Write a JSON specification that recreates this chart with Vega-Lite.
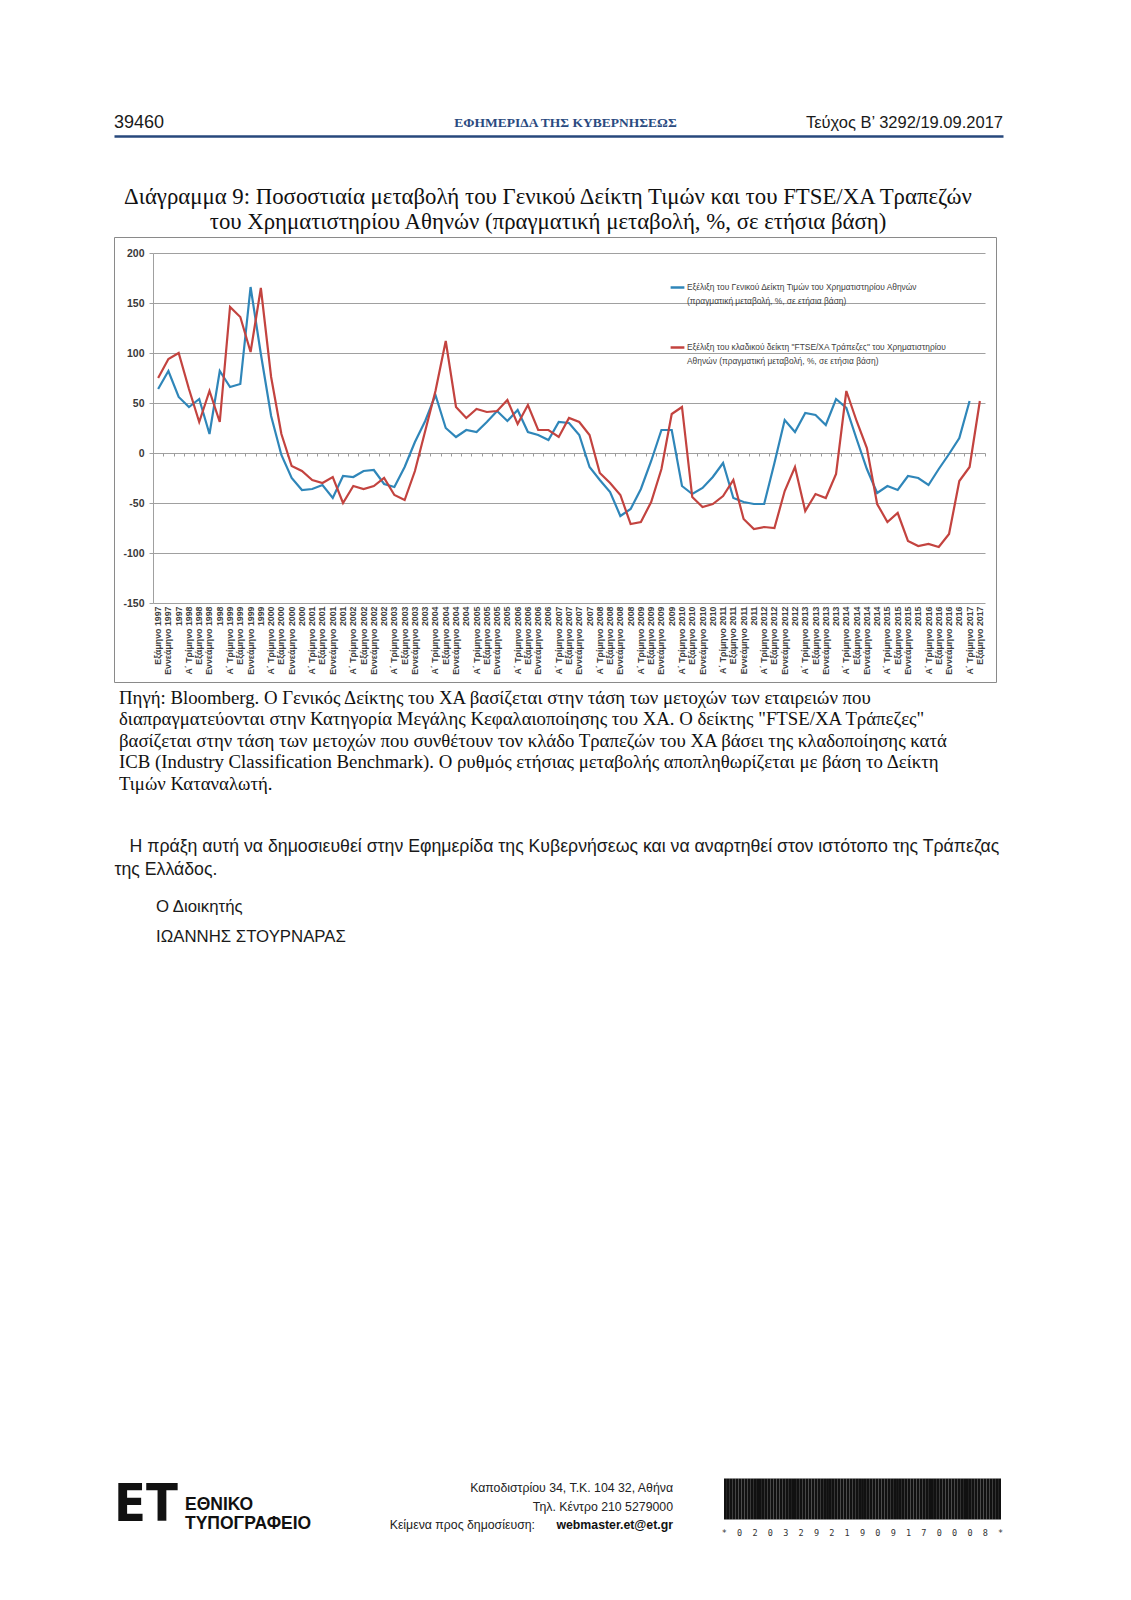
{
  "$schema": "https://vega.github.io/schema/vega-lite/v6.json",
  "background": "white",
  "padding": {"left": 113, "top": 109, "right": 0, "bottom": 0},
  "config": {"view": {"stroke": null}, "font": "Liberation Sans"},
  "datasets": {
    "quarters": [
      {"period":"Εξάμηνο 1997","general":64,"banks":75},
      {"period":"Εννεάμηνο 1997","general":82,"banks":94},
      {"period":"1997","general":56,"banks":100},
      {"period":"Α΄ Τρίμηνο 1998","general":46,"banks":64},
      {"period":"Εξάμηνο 1998","general":54,"banks":31},
      {"period":"Εννεάμηνο 1998","general":19,"banks":62},
      {"period":"1998","general":82,"banks":31},
      {"period":"Α΄ Τρίμηνο 1999","general":66,"banks":146},
      {"period":"Εξάμηνο 1999","general":69,"banks":136},
      {"period":"Εννεάμηνο 1999","general":166,"banks":101},
      {"period":"1999","general":99,"banks":165},
      {"period":"Α΄ Τρίμηνο 2000","general":37,"banks":76},
      {"period":"Εξάμηνο 2000","general":-2,"banks":19},
      {"period":"Εννεάμηνο 2000","general":-25,"banks":-13},
      {"period":"2000","general":-37,"banks":-18},
      {"period":"Α΄ Τρίμηνο 2001","general":-36,"banks":-27},
      {"period":"Εξάμηνο 2001","general":-32,"banks":-30},
      {"period":"Εννεάμηνο 2001","general":-45,"banks":-24},
      {"period":"2001","general":-23,"banks":-50},
      {"period":"Α΄ Τρίμηνο 2002","general":-24,"banks":-33},
      {"period":"Εξάμηνο 2002","general":-18,"banks":-36},
      {"period":"Εννεάμηνο 2002","general":-17,"banks":-33},
      {"period":"2002","general":-31,"banks":-25},
      {"period":"Α΄ Τρίμηνο 2003","general":-34,"banks":-42},
      {"period":"Εξάμηνο 2003","general":-14,"banks":-47},
      {"period":"Εννεάμηνο 2003","general":11,"banks":-18},
      {"period":"2003","general":32,"banks":22},
      {"period":"Α΄ Τρίμηνο 2004","general":58,"banks":62},
      {"period":"Εξάμηνο 2004","general":25,"banks":112},
      {"period":"Εννεάμηνο 2004","general":16,"banks":46},
      {"period":"2004","general":23,"banks":35},
      {"period":"Α΄ Τρίμηνο 2005","general":21,"banks":44},
      {"period":"Εξάμηνο 2005","general":31,"banks":41},
      {"period":"Εννεάμηνο 2005","general":42,"banks":42},
      {"period":"2005","general":32,"banks":53},
      {"period":"Α΄ Τρίμηνο 2006","general":43,"banks":29},
      {"period":"Εξάμηνο 2006","general":21,"banks":48},
      {"period":"Εννεάμηνο 2006","general":18,"banks":23},
      {"period":"2006","general":13,"banks":23},
      {"period":"Α΄ Τρίμηνο 2007","general":31,"banks":16},
      {"period":"Εξάμηνο 2007","general":30,"banks":35},
      {"period":"Εννεάμηνο 2007","general":18,"banks":31},
      {"period":"2007","general":-14,"banks":18},
      {"period":"Α΄ Τρίμηνο 2008","general":-27,"banks":-20},
      {"period":"Εξάμηνο 2008","general":-39,"banks":-30},
      {"period":"Εννεάμηνο 2008","general":-63,"banks":-42},
      {"period":"2008","general":-56,"banks":-71},
      {"period":"Α΄ Τρίμηνο 2009","general":-36,"banks":-69},
      {"period":"Εξάμηνο 2009","general":-8,"banks":-49},
      {"period":"Εννεάμηνο 2009","general":23,"banks":-16},
      {"period":"2009","general":23,"banks":39},
      {"period":"Α΄ Τρίμηνο 2010","general":-33,"banks":46},
      {"period":"Εξάμηνο 2010","general":-41,"banks":-44},
      {"period":"Εννεάμηνο 2010","general":-35,"banks":-54},
      {"period":"2010","general":-24,"banks":-51},
      {"period":"Α΄ Τρίμηνο 2011","general":-10,"banks":-43},
      {"period":"Εξάμηνο 2011","general":-45,"banks":-27},
      {"period":"Εννεάμηνο 2011","general":-49,"banks":-66},
      {"period":"2011","general":-51,"banks":-76},
      {"period":"Α΄ Τρίμηνο 2012","general":-51,"banks":-74},
      {"period":"Εξάμηνο 2012","general":-10,"banks":-75},
      {"period":"Εννεάμηνο 2012","general":33,"banks":-38},
      {"period":"2012","general":21,"banks":-14},
      {"period":"Α΄ Τρίμηνο 2013","general":40,"banks":-58},
      {"period":"Εξάμηνο 2013","general":38,"banks":-41},
      {"period":"Εννεάμηνο 2013","general":28,"banks":-45},
      {"period":"2013","general":54,"banks":-21},
      {"period":"Α΄ Τρίμηνο 2014","general":45,"banks":62},
      {"period":"Εξάμηνο 2014","general":14,"banks":32},
      {"period":"Εννεάμηνο 2014","general":-16,"banks":5},
      {"period":"2014","general":-40,"banks":-51},
      {"period":"Α΄ Τρίμηνο 2015","general":-33,"banks":-69},
      {"period":"Εξάμηνο 2015","general":-37,"banks":-60},
      {"period":"Εννεάμηνο 2015","general":-23,"banks":-88},
      {"period":"2015","general":-25,"banks":-93},
      {"period":"Α΄ Τρίμηνο 2016","general":-32,"banks":-91},
      {"period":"Εξάμηνο 2016","general":-16,"banks":-94},
      {"period":"Εννεάμηνο 2016","general":-1,"banks":-81},
      {"period":"2016","general":15,"banks":-28},
      {"period":"Α΄ Τρίμηνο 2017","general":52,"banks":-14},
      {"period":"Εξάμηνο 2017","banks":52}
    ]
  },
  "bounds": "flush",
  "spacing": 101,
  "vconcat": [
    {
      "width": 889,
      "height": 27,
      "data": {"values": [
        {"slot": "number", "text": "39460"},
        {"slot": "journal", "text": "ΕΦΗΜΕΡΙΔΑ ΤΗΣ ΚΥΒΕΡΝΗΣΕΩΣ"},
        {"slot": "issue", "text": "Τεύχος Β’ 3292/19.09.2017"}
      ]},
      "encoding": {
        "x": {"field": "slot", "type": "nominal", "sort": null,
              "scale": {"type": "point", "domain": ["number", "journal", "issue"], "padding": 0},
              "axis": {"orient": "bottom", "title": null, "labels": false, "ticks": false, "grid": false, "domainColor": "#27487c", "domainWidth": 2.6}},
        "text": {"field": "text"}
      },
      "layer": [
        {"transform": [{"filter": "datum.slot == 'number'"}],
         "mark": {"type": "text", "align": "left", "baseline": "middle", "font": "Liberation Sans", "fontSize": 18, "color": "#1a1a1a"}},
        {"transform": [{"filter": "datum.slot == 'journal'"}],
         "mark": {"type": "text", "align": "center", "baseline": "middle", "font": "Liberation Serif", "fontWeight": "bold", "fontSize": 13.5, "color": "#2a4a80", "dx": 7}},
        {"transform": [{"filter": "datum.slot == 'issue'"}],
         "mark": {"type": "text", "align": "right", "baseline": "middle", "font": "Liberation Sans", "fontSize": 16.5, "color": "#1a1a1a"}}
      ]
    },
    {
      "bounds": "flush",
      "spacing": 4.75,
      "vconcat": [
        {
          "width": 882,
          "height": 445,
          "view": {"stroke": "#8a8a8a", "strokeWidth": 1},
          "title": {
            "text": ["Διάγραμμα 9: Ποσοστιαία μεταβολή του Γενικού Δείκτη Τιμών και του FTSE/ΧΑ Τραπεζών", "του Χρηματιστηρίου Αθηνών (πραγματική μεταβολή, %, σε ετήσια βάση)"],
            "font": "Liberation Serif", "fontSize": 22.8, "fontWeight": "normal", "color": "#111111",
            "lineHeight": 25.5, "anchor": "middle", "offset": 3, "dx": -7
          },
          "data": {"name": "quarters"},
          "layer": [
            {
              "mark": {"type": "line", "strokeWidth": 2.2},
              "encoding": {
                "x": {"field": "period", "type": "ordinal", "sort": null,
                      "scale": {"range": [39, 871], "paddingInner": 0, "paddingOuter": 0},
                      "axis": {"orient": "bottom", "offset": -229, "title": null, "labels": false, "domain": false, "grid": false,
                               "ticks": true, "tickSize": 3, "tickColor": "#9a9a9a", "tickBand": "extent"}},
                "y": {"field": "general", "type": "quantitative",
                      "scale": {"domain": [-150, 200], "range": [366, 16], "nice": false, "zero": false},
                      "axis": {"values": [-150, -100, -50, 0, 50, 100, 150, 200], "offset": -39, "title": null,
                               "labelExpr": "datum.value < 0 ? '-' + abs(datum.value) : '' + datum.value",
                               "grid": true, "gridColor": "#a0a0a0", "gridWidth": 1,
                               "domain": true, "domainColor": "#a0a0a0", "ticks": true, "tickSize": 4, "tickColor": "#a0a0a0",
                               "labelFont": "Liberation Sans", "labelFontSize": 10.5, "labelFontWeight": "bold", "labelColor": "#3a3a3a", "labelPadding": 5}},
                "color": {"datum": "general", "type": "nominal",
                          "scale": {"domain": ["general", "banks"], "range": ["#2f86b9", "#c3433f"]},
                          "legend": {"orient": "none", "legendX": 555, "legendY": 170, "title": null, "padding": 0,
                                     "symbolType": "stroke", "symbolSize": 190, "symbolStrokeWidth": 2.5,
                                     "labelFont": "Liberation Sans", "labelFontSize": 8.4, "labelColor": "#404040", "labelLimit": 400,
                                     "rowPadding": 33, "labelOffset": 1, "labelBaseline": "top",
                                     "labelExpr": "datum.label == 'general' ? ['Εξέλιξη του Γενικού Δείκτη Τιμών του Χρηματιστηρίου Αθηνών', '(πραγματική μεταβολή, %, σε ετήσια βάση)'] : ['Εξέλιξη του κλαδικού δείκτη \"FTSE/ΧΑ Τράπεζες\" του Χρηματιστηρίου', 'Αθηνών (πραγματική μεταβολή, %, σε ετήσια βάση)']",
                                     "encode": {"labels": {"update": {"lineHeight": {"value": 14.5}, "dy": {"value": -5}}}}}}
              }
            },
            {
              "mark": {"type": "line", "strokeWidth": 2.2},
              "encoding": {
                "x": {"field": "period", "type": "ordinal", "sort": null,
                      "scale": {"range": [39, 871], "paddingInner": 0, "paddingOuter": 0},
                      "axis": {"orient": "bottom", "offset": -79, "title": null, "domain": false, "ticks": false, "grid": false,
                               "labelAngle": -90, "labelFont": "Liberation Sans", "labelFontSize": 8.8, "labelFontWeight": "bold",
                               "labelColor": "#404040", "labelPadding": 3, "labelOverlap": false, "labelLimit": 90}},
                "y": {"field": "banks", "type": "quantitative",
                      "scale": {"domain": [-150, 200], "range": [366, 16], "nice": false, "zero": false},
                      "axis": {"values": [-150, -100, -50, 0, 50, 100, 150, 200], "offset": -39, "title": null,
                               "labelExpr": "datum.value < 0 ? '-' + abs(datum.value) : '' + datum.value",
                               "grid": true, "gridColor": "#a0a0a0", "gridWidth": 1,
                               "domain": true, "domainColor": "#a0a0a0", "ticks": true, "tickSize": 4, "tickColor": "#a0a0a0",
                               "labelFont": "Liberation Sans", "labelFontSize": 10.5, "labelFontWeight": "bold", "labelColor": "#3a3a3a", "labelPadding": 5}},
                "color": {"datum": "banks", "type": "nominal"}
              }
            }
          ],
          "resolve": {"axis": {"x": "independent"}}
        },
        {
          "bounds": "flush",
          "spacing": 40.25,
          "vconcat": [
            {
              "width": 10,
              "height": 107.5,
              "data": {"values": [
                {"line": 1, "text": "Πηγή: Bloomberg. Ο Γενικός Δείκτης του ΧΑ βασίζεται στην τάση των μετοχών των εταιρειών που"},
                {"line": 2, "text": "διαπραγματεύονται στην Κατηγορία Μεγάλης Κεφαλαιοποίησης του ΧΑ. Ο δείκτης \"FTSE/ΧΑ Τράπεζες\""},
                {"line": 3, "text": "βασίζεται στην τάση των μετοχών που συνθέτουν τον κλάδο Τραπεζών του ΧΑ βάσει της κλαδοποίησης κατά"},
                {"line": 4, "text": "ICB (Industry Classification Benchmark). Ο ρυθμός ετήσιας μεταβολής αποπληθωρίζεται με βάση το Δείκτη"},
                {"line": 5, "text": "Τιμών Καταναλωτή."}
              ]},
              "mark": {"type": "text", "align": "left", "baseline": "middle", "font": "Liberation Serif", "fontSize": 18.8, "color": "#111111"},
              "encoding": {
                "y": {"field": "line", "type": "ordinal", "scale": {"type": "point", "padding": 0.5}, "axis": null},
                "text": {"field": "text"}
              }
            },
            {
              "bounds": "flush",
              "spacing": 11.25,
              "vconcat": [
                {
                  "width": 1,
                  "height": 46,
                  "data": {"values": [
                    {"line": 1, "text": "Η πράξη αυτή να δημοσιευθεί στην Εφημερίδα της Κυβερνήσεως και να αναρτηθεί στον ιστότοπο της Τράπεζας"},
                    {"line": 2, "text": "της Ελλάδος."}
                  ]},
                  "encoding": {
                    "y": {"field": "line", "type": "ordinal", "scale": {"type": "point", "padding": 0.5}, "axis": null},
                    "text": {"field": "text"}
                  },
                  "layer": [
                    {"transform": [{"filter": "datum.line == 1"}],
                     "mark": {"type": "text", "align": "left", "baseline": "middle", "font": "Liberation Sans", "fontSize": 17.7, "color": "#1a1a1a", "dx": 15}},
                    {"transform": [{"filter": "datum.line == 2"}],
                     "mark": {"type": "text", "align": "left", "baseline": "middle", "font": "Liberation Sans", "fontSize": 17.7, "color": "#1a1a1a"}}
                  ]
                },
                {
                  "bounds": "flush",
                  "spacing": 527.25,
                  "vconcat": [
                    {
                      "width": 84,
                      "height": 59,
                      "data": {"values": [
                        {"line": 1, "text": "Ο Διοικητής"},
                        {"line": 2, "text": "ΙΩΑΝΝΗΣ ΣΤΟΥΡΝΑΡΑΣ"}
                      ]},
                      "mark": {"type": "text", "align": "left", "baseline": "middle", "font": "Liberation Sans", "fontSize": 16.8, "color": "#1a1a1a"},
                      "encoding": {
                        "y": {"field": "line", "type": "ordinal", "scale": {"type": "point", "padding": 0.5}, "axis": null},
                        "text": {"field": "text"}
                      }
                    },
                    {
                      "bounds": "flush",
                      "spacing": 51,
                      "hconcat": [
                        {
                          "width": 71,
                          "height": 52,
                          "data": {"values": [
                            {"part": "mark", "text": "ΕΤ"},
                            {"part": "name", "text": "ΕΘΝΙΚΟ\nΤΥΠΟΓΡΑΦΕΙΟ"}
                          ]},
                          "encoding": {
                            "x": {"field": "part", "type": "nominal", "scale": {"type": "point", "domain": ["mark", "name"], "padding": 0}, "axis": null},
                            "text": {"field": "text"}
                          },
                          "layer": [
                            {"transform": [{"filter": "datum.part == 'mark'"}],
                             "mark": {"type": "text", "align": "left", "baseline": "middle", "font": "DejaVu Sans Condensed", "fontWeight": "bold", "fontSize": 52, "color": "#111111"}},
                            {"transform": [{"filter": "datum.part == 'name'"}],
                             "mark": {"type": "text", "align": "left", "baseline": "middle", "font": "Liberation Sans", "fontWeight": "bold", "fontSize": 17.5, "lineBreak": "\n", "lineHeight": 19, "color": "#111111"}}
                          ]
                        },
                        {
                          "width": 437,
                          "height": 56,
                          "data": {"values": [
                            {"block": "address", "line": 1, "kind": "plain", "text": "Καποδιστρίου 34, Τ.Κ. 104 32, Αθήνα"},
                            {"block": "address", "line": 2, "kind": "plain", "text": "Τηλ. Κέντρο 210 5279000"},
                            {"block": "address", "line": 3, "kind": "label", "text": "Κείμενα προς δημοσίευση:"},
                            {"block": "address", "line": 3, "kind": "email", "text": "webmaster.et@et.gr"}
                          ]},
                          "encoding": {
                            "x": {"field": "block", "type": "nominal", "scale": {"type": "band", "paddingInner": 0, "paddingOuter": 0}, "bandPosition": 1, "axis": null},
                            "y": {"field": "line", "type": "ordinal", "scale": {"type": "point", "padding": 0.5}, "axis": null},
                            "text": {"field": "text"}
                          },
                          "layer": [
                            {"transform": [{"filter": "datum.kind == 'plain'"}],
                             "mark": {"type": "text", "align": "right", "baseline": "middle", "font": "Liberation Sans", "fontSize": 12.3, "color": "#222222"}},
                            {"transform": [{"filter": "datum.kind == 'label'"}],
                             "mark": {"type": "text", "align": "right", "baseline": "middle", "font": "Liberation Sans", "fontSize": 12.3, "color": "#222222", "dx": -138}},
                            {"transform": [{"filter": "datum.kind == 'email'"}],
                             "mark": {"type": "text", "align": "right", "baseline": "middle", "font": "Liberation Sans", "fontWeight": "bold", "fontSize": 12.3, "color": "#111111"}}
                          ]
                        },
                        {
                          "width": 277,
                          "height": 41,
                          "title": {"text": "*\u00a0\u00a00\u00a0\u00a02\u00a0\u00a00\u00a0\u00a03\u00a0\u00a02\u00a0\u00a09\u00a0\u00a02\u00a0\u00a01\u00a0\u00a09\u00a0\u00a00\u00a0\u00a09\u00a0\u00a01\u00a0\u00a07\u00a0\u00a00\u00a0\u00a00\u00a0\u00a00\u00a0\u00a08\u00a0\u00a0*",
                                    "orient": "bottom", "anchor": "middle", "font": "DejaVu Sans Mono", "fontSize": 8.5, "fontWeight": "normal", "color": "#333333", "offset": 9},
                          "data": {"values": [
                            {"pos": 1, "ch": "*", "bar": [1,2,3,4,5], "w": ["n","n","w","w","n"]},
                            {"pos": 2, "ch": "0", "bar": [1,2,3,4,5], "w": ["n","n","w","w","n"]},
                            {"pos": 3, "ch": "2", "bar": [1,2,3,4,5], "w": ["n","w","n","n","w"]},
                            {"pos": 4, "ch": "0", "bar": [1,2,3,4,5], "w": ["n","n","w","w","n"]},
                            {"pos": 5, "ch": "3", "bar": [1,2,3,4,5], "w": ["w","w","n","n","n"]},
                            {"pos": 6, "ch": "2", "bar": [1,2,3,4,5], "w": ["n","w","n","n","w"]},
                            {"pos": 7, "ch": "9", "bar": [1,2,3,4,5], "w": ["n","w","n","w","n"]},
                            {"pos": 8, "ch": "2", "bar": [1,2,3,4,5], "w": ["n","w","n","n","w"]},
                            {"pos": 9, "ch": "1", "bar": [1,2,3,4,5], "w": ["w","n","n","n","w"]},
                            {"pos": 10, "ch": "9", "bar": [1,2,3,4,5], "w": ["n","w","n","w","n"]},
                            {"pos": 11, "ch": "0", "bar": [1,2,3,4,5], "w": ["n","n","w","w","n"]},
                            {"pos": 12, "ch": "9", "bar": [1,2,3,4,5], "w": ["n","w","n","w","n"]},
                            {"pos": 13, "ch": "1", "bar": [1,2,3,4,5], "w": ["w","n","n","n","w"]},
                            {"pos": 14, "ch": "7", "bar": [1,2,3,4,5], "w": ["n","n","n","w","w"]},
                            {"pos": 15, "ch": "0", "bar": [1,2,3,4,5], "w": ["n","n","w","w","n"]},
                            {"pos": 16, "ch": "0", "bar": [1,2,3,4,5], "w": ["n","n","w","w","n"]},
                            {"pos": 17, "ch": "0", "bar": [1,2,3,4,5], "w": ["n","n","w","w","n"]},
                            {"pos": 18, "ch": "8", "bar": [1,2,3,4,5], "w": ["w","n","n","w","n"]},
                            {"pos": 19, "ch": "*", "bar": [1,2,3,4,5], "w": ["n","n","w","w","n"]}
                          ]},
                          "transform": [{"flatten": ["bar", "w"]}],
                          "mark": {"type": "bar", "color": "#111111"},
                          "encoding": {
                            "x": {"field": "pos", "type": "ordinal", "scale": {"paddingInner": 0, "paddingOuter": 0}, "axis": null},
                            "xOffset": {"field": "bar", "type": "ordinal", "scale": {"paddingInner": 0, "paddingOuter": 0}},
                            "size": {"field": "w", "type": "nominal", "scale": {"domain": ["n", "w"], "range": [0.8, 1.7]}, "legend": null}
                          }
                        }
                      ]
                    }
                  ]
                }
              ]
            }
          ]
        }
      ]
    }
  ]
}
